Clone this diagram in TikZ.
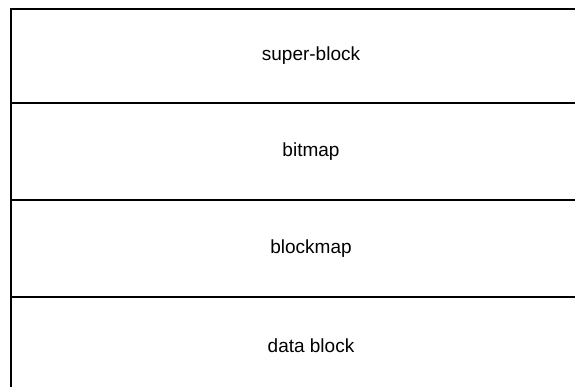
\documentclass[tikz,border=0pt]{standalone}
\usepackage{fontspec}
\setmainfont{Liberation Sans}
\begin{document}
\begin{tikzpicture}[x=1pt,y=-1pt,
  rule/.style={line width=2pt},
  lbl/.style={font=\fontsize{19}{22}\selectfont, inner sep=0pt}]
\useasboundingbox (0,0) rectangle (575,387);
\coordinate (tl) at (11,9);
\coordinate (bl) at (11,387);
\coordinate (tr) at (575,9);
\coordinate (l1) at (11,103.5);
\coordinate (r1) at (575,103.5);
\coordinate (l2) at (11,200);
\coordinate (r2) at (575,200);
\coordinate (l3) at (11,297);
\coordinate (r3) at (575,297);
\draw[rule] (bl) -- (tl) -- (tr);
\draw[rule] (l1) -- (r1);
\draw[rule] (l2) -- (r2);
\draw[rule] (l3) -- (r3);
\node[lbl] (sb) at (311,56) {super-block};
\node[lbl] (bm) at (311,152) {bitmap};
\node[lbl] (blm) at (311,249) {blockmap};
\node[lbl] (db) at (311,346) {data block};
\end{tikzpicture}
\end{document}
